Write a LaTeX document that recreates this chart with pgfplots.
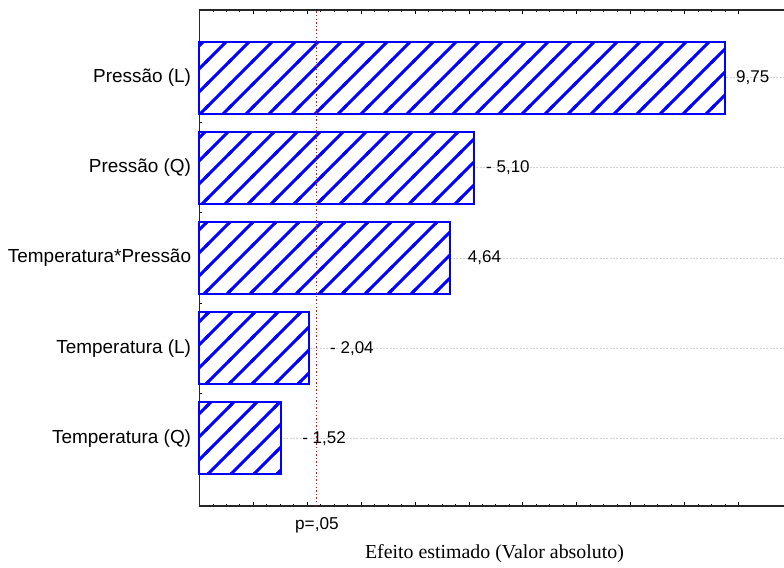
\documentclass[border=0pt]{standalone}
\usepackage{fontspec}
\setmainfont{Liberation Sans}
\newfontfamily\timesfont{Liberation Serif}
\usepackage{pgfplots}
\pgfplotsset{compat=1.18}
\usetikzlibrary{patterns}
\protected\def\pcrit{p=,05}
% tile step 17.25pt, bbox overlapping by 2pt, diagonal band filled (half horizontal width 1.6pt)
\pgfdeclarepatternformonly{hatchne}{\pgfqpoint{-2pt}{-2pt}}{\pgfqpoint{19.25pt}{19.25pt}}{\pgfqpoint{17.25pt}{17.25pt}}{%
  \pgfpathmoveto{\pgfqpoint{-2pt}{-3.6pt}}%
  \pgfpathlineto{\pgfqpoint{19.25pt}{17.65pt}}%
  \pgfpathlineto{\pgfqpoint{19.25pt}{20.85pt}}%
  \pgfpathlineto{\pgfqpoint{-2pt}{-0.4pt}}%
  \pgfpathclose
  \pgfusepath{fill}}
\begin{document}
\begin{tikzpicture}
\begin{axis}[
  scale only axis,
  width=441.4pt, height=372pt,
  xmin=0, xmax=10.92,
  ymin=0.25, ymax=5.75,
  axis line style={line width=0.9pt, black!85},
  tick align=inside,
  tick style={black, line width=0.7pt},
  major tick length=2.8pt,
  minor tick length=1.6pt,
  xtick pos=both,
  ytick pos=left,
  xtick={0,1,...,10},
  minor x tick num=3,
  xticklabels={},
  extra x ticks={2.179},
  extra x tick labels={\pcrit},
  extra x tick style={major tick length=0pt, xticklabel style={font=\fontsize{12.9}{15}\selectfont, yshift=-5pt}},
  ytick={1,2,3,4,5},
  yticklabels={Temperatura (Q),Temperatura (L),Temperatura*Pressão,Pressão (Q),Pressão (L)},
  minor y tick num=3,
  yticklabel style={font=\fontsize{14.2}{16}\selectfont, xshift=-2.8pt},
  ymajorgrids,
  grid style={black!18, dash pattern=on 1.5pt off 1pt, line width=0.6pt},
  xlabel={\timesfont Efeito estimado (Valor absoluto)},
  xlabel style={font=\fontsize{14.9}{17}\selectfont, at={(axis description cs:0.5012,0)}, anchor=center, yshift=-36pt},
  clip=false,
]
\coordinate (O) at (rel axis cs:0,0);
\addplot[xbar, bar width=0.8, draw=blue, line width=1.5pt, fill=white,
  postaction={pattern=hatchne, pattern color=blue}]
  coordinates {(9.75,5) (5.10,4) (4.64,3) (2.04,2) (1.52,1)};
\addplot[red, no marks, line width=0.8pt, dash pattern=on 1.1pt off 1.6pt]
  coordinates {(2.179,0.25) (2.179,5.75)};
\begin{scope}[every node/.style={anchor=west, inner sep=0pt, font=\fontsize{12.75}{15}\selectfont}]
\node at (axis cs:9.954,5) {9,75};
\node at (axis cs:5.315,4) {- 5,10};
\node at (axis cs:4.976,3) {4,64};
\node at (axis cs:2.421,2) {- 2,04};
\node at (axis cs:1.902,1) {- 1,52};
\end{scope}
\end{axis}
\pgfresetboundingbox
\useasboundingbox (O) ++(-149.625pt,-45.75pt) rectangle ++(588pt,425.25pt);
\end{tikzpicture}
\end{document}
